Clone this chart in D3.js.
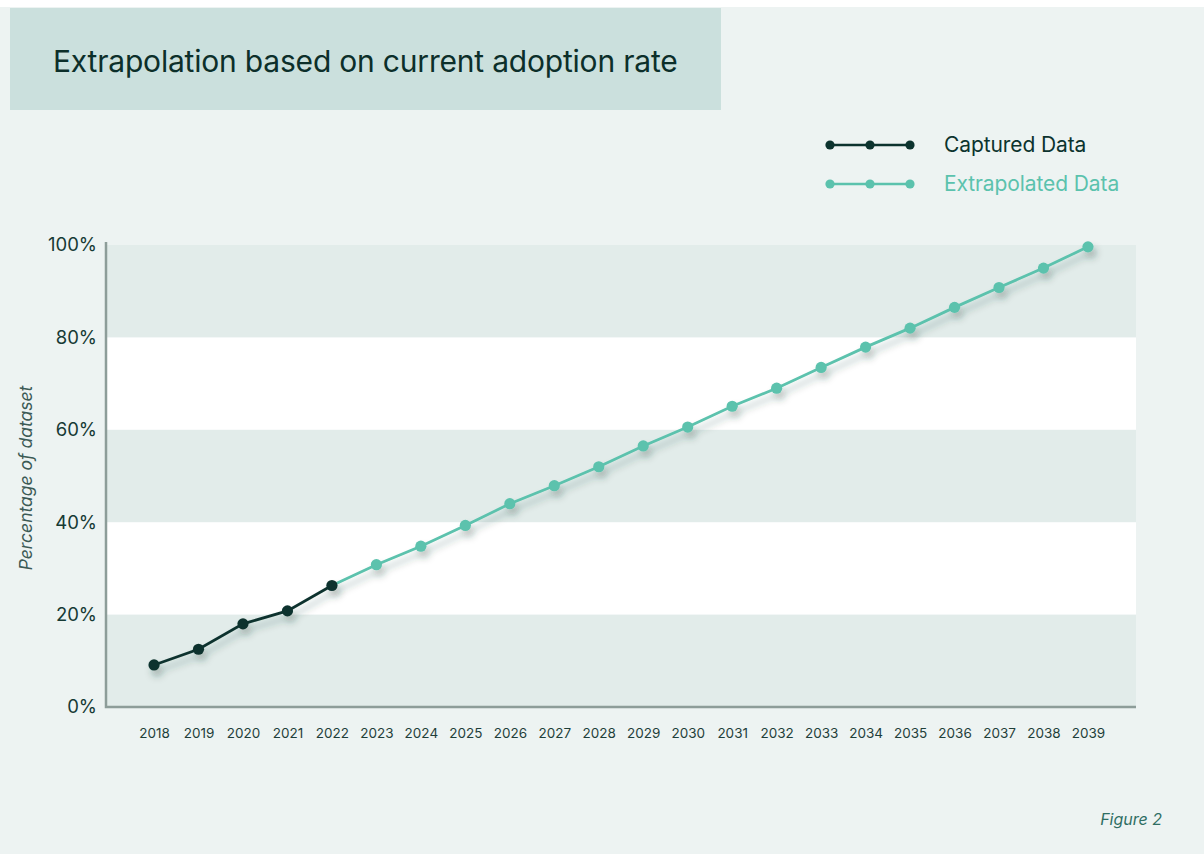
<!DOCTYPE html>
<html>
<head>
<meta charset="utf-8">
<script src="https://cdn.jsdelivr.net/npm/d3@7"></script>
<style>
  html, body { margin: 0; padding: 0; background: #ffffff; }
  svg { display: block; }
  text { font-family: Inter, "Noto Sans", sans-serif; }
</style>
</head>
<body>
<script>
// Years on the horizontal axis
const years = [2018, 2019, 2020, 2021, 2022, 2023, 2024, 2025, 2026, 2027, 2028,
               2029, 2030, 2031, 2032, 2033, 2034, 2035, 2036, 2037, 2038, 2039];

// Measured share of the dataset (%)
const capturedYears = [2018, 2019, 2020, 2021, 2022];
const capturedValues = [9.1, 12.5, 18.0, 20.8, 26.3];

// Projected share (%), continuing from the last measured year
const extrapolatedYears = [2022, 2023, 2024, 2025, 2026, 2027, 2028, 2029, 2030, 2031,
                           2032, 2033, 2034, 2035, 2036, 2037, 2038, 2039];
const extrapolatedValues = [26.3, 30.8, 34.8, 39.3, 44.0, 47.9, 52.0, 56.5, 60.6, 65.1,
                            69.0, 73.5, 77.9, 82.0, 86.5, 90.8, 95.0, 99.6];

const yTicks = [0, 20, 40, 60, 80, 100];
const bandStarts = [0, 40, 80]; // shaded bands, each 20 points tall

const title = "Extrapolation based on current adoption rate";
const seriesNames = ["Captured Data", "Extrapolated Data"];

const W = 1204, H = 854;
const dark = "#0c332e", teal = "#5bc2ad";

const svg = d3.select("body").append("svg").attr("width", W).attr("height", H);

const defs = svg.append("defs");
const f = defs.append("filter").attr("id", "shadow")
  .attr("x", "-50%").attr("y", "-50%").attr("width", "200%").attr("height", "200%");
f.append("feDropShadow").attr("dx", 3).attr("dy", 6).attr("stdDeviation", 3.8)
  .attr("flood-color", "#1d3a35").attr("flood-opacity", 0.32);

// Page background
svg.append("rect").attr("x", 0).attr("y", 7).attr("width", W).attr("height", H - 7).attr("fill", "#edf3f2");

// Title panel
svg.append("rect").attr("x", 10).attr("y", 8).attr("width", 711).attr("height", 102).attr("fill", "#cbe0dd");
svg.append("text").attr("x", 53).attr("y", 72).attr("fill", "#0c2f2a")
  .attr("font-size", 30).attr("letter-spacing", -0.2).text(title);

// Scales
const plotLeft = 106, plotRight = 1136;
const x = d3.scalePoint().domain(years).range([plotLeft, plotRight]).padding(1.08);
const y = d3.scaleLinear().domain([0, 100]).range([707, 245]);

// Background bands
svg.append("rect").attr("x", plotLeft).attr("y", y(100)).attr("width", plotRight - plotLeft)
  .attr("height", y(0) - y(100)).attr("fill", "#ffffff");
svg.selectAll("rect.band").data(bandStarts).enter().append("rect")
  .attr("class", "band")
  .attr("x", plotLeft).attr("width", plotRight - plotLeft)
  .attr("y", d => y(d + 20)).attr("height", d => y(d) - y(d + 20))
  .attr("fill", "#e2ecea");

// Axes
const yAxis = svg.append("g").attr("transform", `translate(${plotLeft},0)`)
  .call(d3.axisLeft(y).tickValues(yTicks).tickSize(0).tickPadding(9).tickFormat(d => d + "%"));
yAxis.select(".domain").remove();
yAxis.selectAll("text").attr("font-size", 18.5).attr("fill", "#163a35")
  .attr("font-family", "Inter, sans-serif");

const xAxis = svg.append("g").attr("transform", `translate(0,${y(0)})`)
  .call(d3.axisBottom(x).tickSize(0).tickPadding(21));
xAxis.select(".domain").remove();
xAxis.selectAll("text").attr("font-size", 13.5).attr("fill", "#1f3f3a")
  .attr("font-family", "Inter, sans-serif");

svg.append("path")
  .attr("d", `M${plotLeft},${y(100) - 3}V${y(0)}H${plotRight}`)
  .attr("fill", "none").attr("stroke", "#8d9d99").attr("stroke-width", 2.5);

// Y axis title
svg.append("text")
  .attr("transform", "translate(32,478) rotate(-90)")
  .attr("text-anchor", "middle").attr("font-size", 17.5).attr("font-style", "italic")
  .attr("fill", "#3c5a55").text("Percentage of dataset");

// Series
const line = d3.line().x(d => x(d[0])).y(d => y(d[1]));
const capPts = capturedYears.map((yr, i) => [yr, capturedValues[i]]);
const extPts = extrapolatedYears.map((yr, i) => [yr, extrapolatedValues[i]]);

const gExt = svg.append("g").attr("filter", "url(#shadow)");
gExt.append("path").datum(extPts).attr("d", line)
  .attr("fill", "none").attr("stroke", teal).attr("stroke-width", 2.8);
gExt.selectAll("circle").data(extPts.slice(1)).enter().append("circle")
  .attr("cx", d => x(d[0])).attr("cy", d => y(d[1])).attr("r", 5.6).attr("fill", teal);

const gCap = svg.append("g").attr("filter", "url(#shadow)");
gCap.append("path").datum(capPts).attr("d", line)
  .attr("fill", "none").attr("stroke", dark).attr("stroke-width", 2.8);
gCap.selectAll("circle").data(capPts).enter().append("circle")
  .attr("cx", d => x(d[0])).attr("cy", d => y(d[1])).attr("r", 5.6).attr("fill", dark);

// Legend
const legend = svg.append("g");
[dark, teal].forEach((c, i) => {
  const ly = 145 + i * 39;
  legend.append("line").attr("x1", 830).attr("x2", 910).attr("y1", ly).attr("y2", ly)
    .attr("stroke", c).attr("stroke-width", 2.4);
  [830, 870, 910].forEach(cx => legend.append("circle").attr("cx", cx).attr("cy", ly).attr("r", 4.6).attr("fill", c));
  legend.append("text").attr("x", 944).attr("y", ly).attr("dy", "0.35em")
    .attr("font-size", 21).attr("letter-spacing", -0.1).attr("fill", c).text(seriesNames[i]);
});

// Figure caption
svg.append("text").attr("x", 1162).attr("y", 825).attr("text-anchor", "end")
  .attr("font-size", 16).attr("font-style", "italic").attr("fill", "#2f6e63").text("Figure 2");
</script>
</body>
</html>
